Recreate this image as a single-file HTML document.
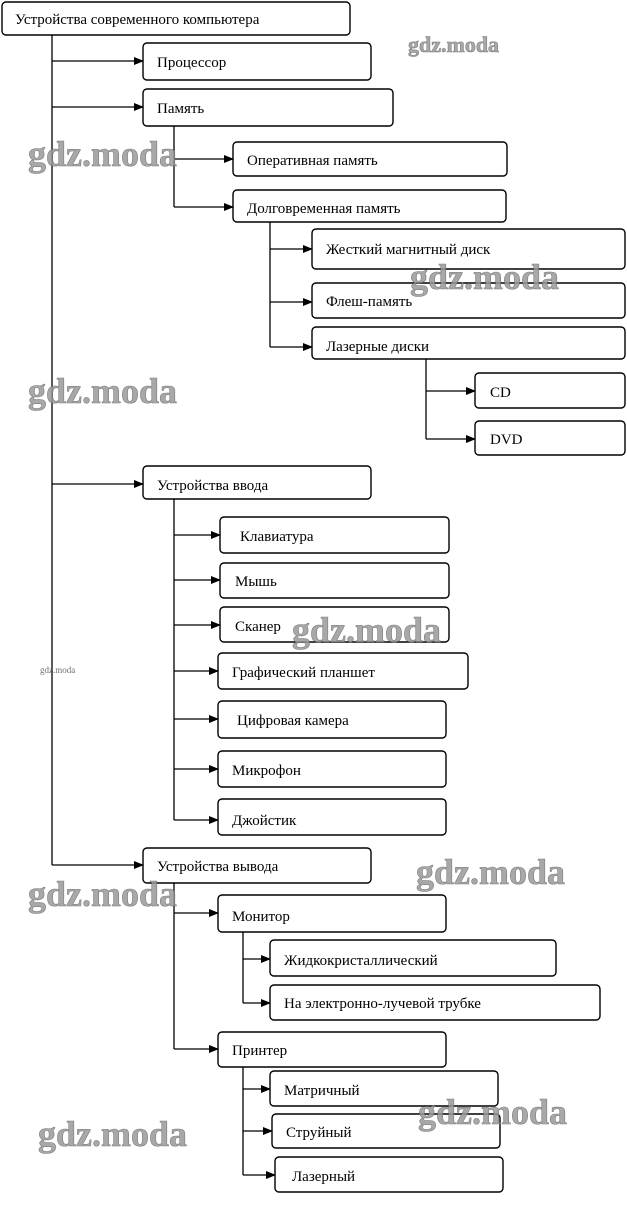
<!DOCTYPE html>
<html><head><meta charset="utf-8"><style>
html,body{margin:0;padding:0;background:#fff;}
svg{display:block;}
text{font-family:"Liberation Serif","DejaVu Serif",serif;font-size:15px;fill:#000;}
.w{font-family:"Liberation Serif",serif;font-weight:bold;font-size:36px;fill:#9a9a9a;stroke:#666;stroke-width:0.6;}
</style></head><body>
<svg width="627" height="1229" viewBox="0 0 627 1229">
<defs><marker id="a" markerWidth="10" markerHeight="8" refX="9" refY="4" orient="auto" markerUnits="userSpaceOnUse"><path d="M0,0 L10,4 L0,8 z" fill="#000"/></marker></defs>
<g fill="#fff" stroke="#000" stroke-width="1.4">
<rect x="2" y="2" width="348" height="33" rx="4"/>
<rect x="143" y="43" width="228" height="37" rx="4"/>
<rect x="143" y="89" width="250" height="37" rx="4"/>
<rect x="233" y="142" width="274" height="34" rx="4"/>
<rect x="233" y="190" width="273" height="32" rx="4"/>
<rect x="312" y="229" width="313" height="40" rx="4"/>
<rect x="312" y="283" width="313" height="35" rx="4"/>
<rect x="312" y="327" width="313" height="32" rx="4"/>
<rect x="475" y="373" width="150" height="35" rx="4"/>
<rect x="475" y="421" width="150" height="34" rx="4"/>
<rect x="143" y="466" width="228" height="33" rx="4"/>
<rect x="220" y="517" width="229" height="36" rx="4"/>
<rect x="220" y="563" width="229" height="35" rx="4"/>
<rect x="220" y="607" width="229" height="35" rx="4"/>
<rect x="218" y="653" width="250" height="36" rx="4"/>
<rect x="218" y="701" width="228" height="37" rx="4"/>
<rect x="218" y="751" width="228" height="36" rx="4"/>
<rect x="218" y="799" width="228" height="36" rx="4"/>
<rect x="143" y="848" width="228" height="35" rx="4"/>
<rect x="218" y="895" width="228" height="37" rx="4"/>
<rect x="270" y="940" width="286" height="36" rx="4"/>
<rect x="270" y="985" width="330" height="35" rx="4"/>
<rect x="218" y="1032" width="228" height="35" rx="4"/>
<rect x="270" y="1071" width="228" height="35" rx="4"/>
<rect x="272" y="1114" width="228" height="34" rx="4"/>
<rect x="275" y="1157" width="228" height="35" rx="4"/>
</g>
<g stroke="#000" stroke-width="1.3" fill="none">
<path d="M52 35V865M174 126V207M270 222V347M426 359V439M174 499V820M174 883V1049M243 932V1003M243 1067V1175"/>
<g marker-end="url(#a)">
<line x1="52" y1="61" x2="143" y2="61"/><line x1="52" y1="107" x2="143" y2="107"/>
<line x1="52" y1="484" x2="143" y2="484"/><line x1="52" y1="865" x2="143" y2="865"/>
<line x1="174" y1="159" x2="233" y2="159"/><line x1="174" y1="207" x2="233" y2="207"/>
<line x1="270" y1="249" x2="312" y2="249"/><line x1="270" y1="302" x2="312" y2="302"/><line x1="270" y1="347" x2="312" y2="347"/>
<line x1="426" y1="391" x2="475" y2="391"/><line x1="426" y1="439" x2="475" y2="439"/>
<line x1="174" y1="535" x2="220" y2="535"/><line x1="174" y1="580" x2="220" y2="580"/><line x1="174" y1="625" x2="220" y2="625"/>
<line x1="174" y1="671" x2="218" y2="671"/><line x1="174" y1="719" x2="218" y2="719"/><line x1="174" y1="769" x2="218" y2="769"/><line x1="174" y1="820" x2="218" y2="820"/>
<line x1="174" y1="913" x2="218" y2="913"/><line x1="174" y1="1049" x2="218" y2="1049"/>
<line x1="243" y1="959" x2="270" y2="959"/><line x1="243" y1="1003" x2="270" y2="1003"/>
<line x1="243" y1="1089" x2="270" y2="1089"/><line x1="243" y1="1131" x2="272" y2="1131"/><line x1="243" y1="1175" x2="275" y2="1175"/>
</g></g>
<text x="15" y="24">Устройства современного компьютера</text>
<text x="157" y="67">Процессор</text>
<text x="157" y="113">Память</text>
<text x="247" y="165">Оперативная память</text>
<text x="247" y="213">Долговременная память</text>
<text x="326" y="254">Жесткий магнитный диск</text>
<text x="326" y="306">Флеш-память</text>
<text x="326" y="351">Лазерные диски</text>
<text x="490" y="397">CD</text>
<text x="490" y="444">DVD</text>
<text x="157" y="490">Устройства ввода</text>
<text x="240" y="541">Клавиатура</text>
<text x="235" y="586">Мышь</text>
<text x="235" y="631">Сканер</text>
<text x="232" y="677">Графический планшет</text>
<text x="237" y="725">Цифровая камера</text>
<text x="232" y="775">Микрофон</text>
<text x="232" y="825">Джойстик</text>
<text x="157" y="871">Устройства вывода</text>
<text x="232" y="921">Монитор</text>
<text x="284" y="965">Жидкокристаллический</text>
<text x="284" y="1008">На электронно-лучевой трубке</text>
<text x="232" y="1055">Принтер</text>
<text x="284" y="1095">Матричный</text>
<text x="286" y="1137">Струйный</text>
<text x="292" y="1181">Лазерный</text>
<g opacity="0.85">
<text class="w" x="408" y="52" style="font-size:22px">gdz.moda</text>
<text class="w" x="28" y="166">gdz.moda</text>
<text class="w" x="410" y="289">gdz.moda</text>
<text class="w" x="28" y="403">gdz.moda</text>
<text class="w" x="292" y="642">gdz.moda</text>
<text class="w" x="416" y="884">gdz.moda</text>
<text class="w" x="28" y="906">gdz.moda</text>
<text class="w" x="418" y="1124">gdz.moda</text>
<text class="w" x="38" y="1146">gdz.moda</text>
<text x="40" y="673" style="font-size:9px;fill:#555">gdz.moda</text>
</g>
</svg>
</body></html>
